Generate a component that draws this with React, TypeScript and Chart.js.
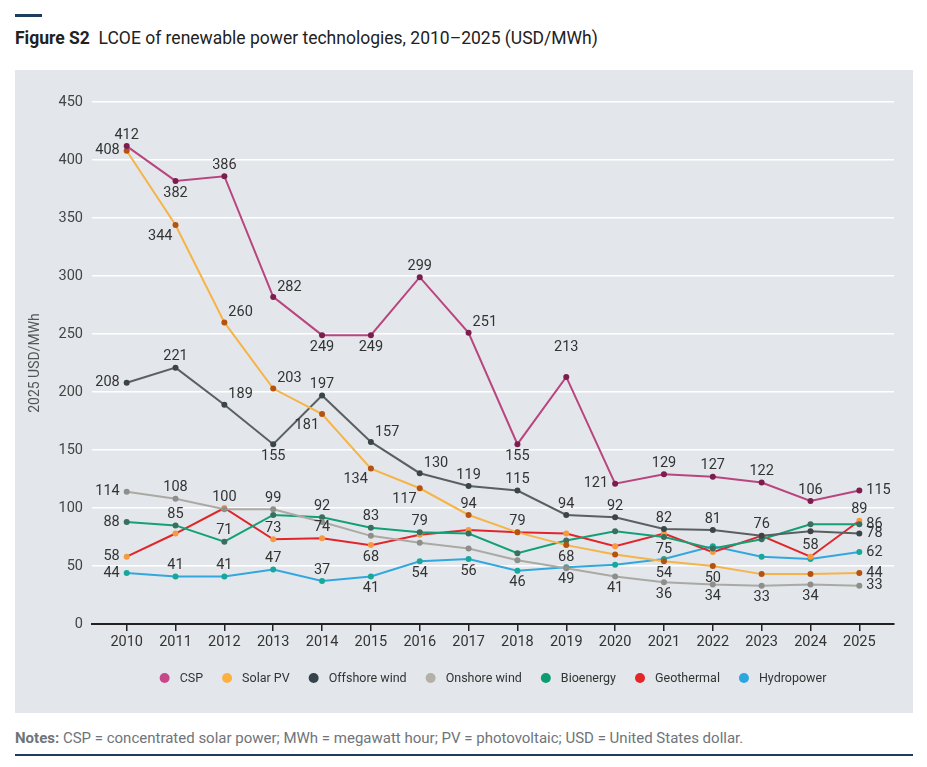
import React, { useEffect, useRef } from "react";
import { Chart, registerables } from "chart.js";

Chart.register(...registerables);

const years = [2010, 2011, 2012, 2013, 2014, 2015, 2016, 2017, 2018, 2019, 2020, 2021, 2022, 2023, 2024, 2025];
const yTicks = [0, 50, 100, 150, 200, 250, 300, 350, 400, 450];

const csp = [412, 382, 386, 282, 249, 249, 299, 251, 155, 213, 121, 129, 127, 122, 106, 115];
const solarPV = [408, 344, 260, 203, 181, 134, 117, 94, 79, 68, 60, 54, 50, 43, 43, 44];
const offshoreWind = [208, 221, 189, 155, 197, 157, 130, 119, 115, 94, 92, 82, 81, 76, 80, 78];
const onshoreWind = [114, 108, 99, 99, 88, 76, 70, 65, 55, 48, 41, 36, 34, 33, 34, 33];
const bioenergy = [88, 85, 71, 94, 92, 83, 79, 78, 61, 72, 80, 75, 65, 73, 86, 86];
const geothermal = [58, 78, 100, 73, 74, 68, 77, 81, 79, 78, 67, 78, 62, 76, 58, 89];
const hydropower = [44, 41, 41, 47, 37, 41, 54, 56, 46, 49, 51, 56, 67, 58, 56, 62];

// where each value label sits relative to its point ('' = no label)
const cspPos = ["t", "b", "t", "tr", "b", "b", "t", "tr", "b", "T", "l", "t", "t", "t", "t", "r"];
const solarPos = ["l", "bl", "tr", "tr", "bl", "bl", "bl", "t", "t", "b", "", "b", "b", "", "", "r"];
const offshorePos = ["l", "t", "tr", "b", "t", "tr", "tr", "t", "t", "t", "t", "t", "t", "t", "", "r"];
const onshorePos = ["l", "t", "", "t", "", "", "", "", "", "", "b", "b", "b", "b", "b", "r"];
const bioPos = ["l", "t", "t", "", "t", "t", "t", "", "", "", "", "b", "", "", "", "r"];
const geoPos = ["l", "", "t", "t", "t", "b", "", "", "", "", "", "", "", "", "t", "t"];
const hydroPos = ["l", "t", "t", "t", "t", "b", "b", "b", "b", "b", "", "", "", "", "", "r"];

const FONT = "Roboto, 'Noto Sans', sans-serif";

const seriesDefs = [
  { label: "CSP", data: csp, pos: cspPos, line: "#b9457f", point: "#7b1e4f", legend: "#c5488a" },
  { label: "Solar PV", data: solarPV, pos: solarPos, line: "#f6b348", point: "#b5520f", legend: "#fbb040" },
  { label: "Offshore wind", data: offshoreWind, pos: offshorePos, line: "#5a5f62", point: "#3b4548", legend: "#36434a" },
  { label: "Onshore wind", data: onshoreWind, pos: onshorePos, line: "#aaa9a3", point: "#8e8e8a", legend: "#b3b1a7" },
  { label: "Bioenergy", data: bioenergy, pos: bioPos, line: "#14a075", point: "#3b6e5e", legend: "#0d9b72" },
  { label: "Geothermal", data: geothermal, pos: geoPos, line: "#e1252b", point: "#f59a40", legend: "#e52528" },
  { label: "Hydropower", data: hydropower, pos: hydroPos, line: "#32a7de", point: "#17a89a", legend: "#2ba7df" },
];

const valueLabels = {
  id: "valueLabels",
  afterDatasetsDraw(chart: any) {
    const ctx = chart.ctx;
    ctx.save();
    ctx.font = `14.5px ${FONT}`;
    ctx.fillStyle = "#333333";
    chart.data.datasets.forEach((ds: any, di: number) => {
      const meta = chart.getDatasetMeta(di);
      const pos: string[] = ds.labelPos;
      meta.data.forEach((pt: any, i: number) => {
        const p = pos[i];
        if (!p) return;
        const txt = String(ds.data[i].y);
        let x = pt.x, y = pt.y;
        ctx.textBaseline = "middle";
        ctx.textAlign = "center";
        if (p === "t") { y -= 11; }
        else if (p === "T") { y -= 30; }
        else if (p === "b") { y += 12; }
        else if (p === "l") { ctx.textAlign = "right"; x -= 7; }
        else if (p === "r") { ctx.textAlign = "left"; x += 7; }
        else if (p === "tr") { ctx.textAlign = "left"; x += 4; y -= 10; }
        else if (p === "bl") { ctx.textAlign = "right"; x -= 3; y += 11; }
        ctx.fillText(txt, x, y);
      });
    });
    ctx.restore();
  },
};

const customLegend = {
  id: "customLegend",
  afterDraw(chart: any) {
    const ctx = chart.ctx;
    const area = chart.chartArea;
    ctx.save();
    ctx.font = `12.5px ${FONT}`;
    const items = chart.data.datasets.map((ds: any) => ({ text: ds.label, color: ds.legendColor, w: ctx.measureText(ds.label).width }));
    const r = 5, gap = 15, spacing = 24;
    let total = 0;
    items.forEach((it: any, i: number) => {
      total += gap + it.w;
      if (i < items.length - 1) total += spacing;
    });
    total += r;
    let cx = (area.left + area.right) / 2 - total / 2 + r;
    const cy = 608;
    ctx.textBaseline = "middle";
    ctx.textAlign = "left";
    items.forEach((it: any) => {
      ctx.beginPath();
      ctx.arc(cx, cy, r, 0, Math.PI * 2);
      ctx.fillStyle = it.color;
      ctx.fill();
      ctx.fillStyle = "#333333";
      ctx.fillText(it.text, cx + gap, cy + 0.5);
      cx += gap + it.w + spacing;
    });
    ctx.restore();
  },
};

function LcoeChart() {
  const ref = useRef<HTMLCanvasElement | null>(null);
  useEffect(() => {
    if (!ref.current) return;
    const chart = new Chart(ref.current, {
      type: "line",
      data: {
        datasets: seriesDefs.map((s) => ({
          label: s.label,
          data: s.data.map((v, i) => ({ x: years[i], y: v })),
          borderColor: s.line,
          backgroundColor: s.point,
          pointBackgroundColor: s.point,
          pointBorderColor: s.point,
          pointRadius: 3,
          pointBorderWidth: 0,
          borderWidth: 2,
          tension: 0,
          labelPos: s.pos,
          legendColor: s.legend,
        })) as any,
      },
      options: {
        animation: false,
        responsive: false,
        maintainAspectRatio: false,
        layout: { padding: { top: 32, right: 19, bottom: 49, left: 0 } },
        plugins: {
          legend: { display: false },
          tooltip: { enabled: false },
        },
        scales: {
          x: {
            type: "linear",
            min: 2009.29,
            max: 2025.71,
            afterBuildTicks: (scale: any) => {
              scale.ticks = years.map((v) => ({ value: v }));
            },
            afterFit: (scale: any) => {
              scale.height = 40;
            },
            ticks: {
              callback: (v: any) => String(v),
              color: "#333333",
              font: { family: FONT, size: 14.5 },
              padding: 3,
              maxRotation: 0,
              autoSkip: false,
            },
            grid: {
              drawOnChartArea: false,
              drawTicks: true,
              tickLength: 7,
              color: "#222222",
              lineWidth: 1.5,
            },
            border: { display: true, color: "#222222", width: 2 },
          },
          y: {
            min: 0,
            max: 450,
            afterBuildTicks: (scale: any) => {
              scale.ticks = yTicks.map((v) => ({ value: v }));
            },
            afterFit: (scale: any) => {
              scale.width = 77;
            },
            ticks: {
              color: "#444444",
              font: { family: FONT, size: 14.5 },
              padding: 9,
            },
            grid: {
              color: "#ffffff",
              lineWidth: 1.5,
              drawTicks: false,
            },
            border: { display: false },
            title: {
              display: true,
              text: "2025 USD/MWh",
              color: "#555555",
              font: { family: FONT, size: 14 },
              padding: { top: 12, bottom: 0 },
            },
          },
        },
      },
      plugins: [valueLabels, customLegend],
    });
    return () => chart.destroy();
  }, []);
  return <canvas ref={ref} width={898} height={643} style={{ display: "block", width: 898, height: 643 }} />;
}

export default function App() {
  return (
    <div style={{ position: "absolute", left: 0, top: 0, width: 927, height: 767, background: "#ffffff", fontFamily: FONT }}>
      <div style={{ position: "absolute", left: 15, top: 14, width: 27, height: 3, background: "#1d3d5e" }} />
      <div style={{ position: "absolute", left: 15, top: 27, fontSize: 17.5, lineHeight: "22px", color: "#222222", whiteSpace: "nowrap" }}>
        <b>Figure S2</b>&nbsp; LCOE of renewable power technologies, 2010–2025 (USD/MWh)
      </div>
      <div style={{ position: "absolute", left: 15, top: 70, width: 898, height: 643, background: "#e3e7eb" }}>
        <LcoeChart />
      </div>
      <div style={{ position: "absolute", left: 15, top: 728, fontSize: 15, lineHeight: "20px", color: "#6f747a", whiteSpace: "nowrap" }}>
        <b>Notes:</b> CSP = concentrated solar power; MWh = megawatt hour; PV = photovoltaic; USD = United States dollar.
      </div>
      <div style={{ position: "absolute", left: 15, top: 754, width: 898, height: 2, background: "#1d3d5e" }} />
    </div>
  );
}
